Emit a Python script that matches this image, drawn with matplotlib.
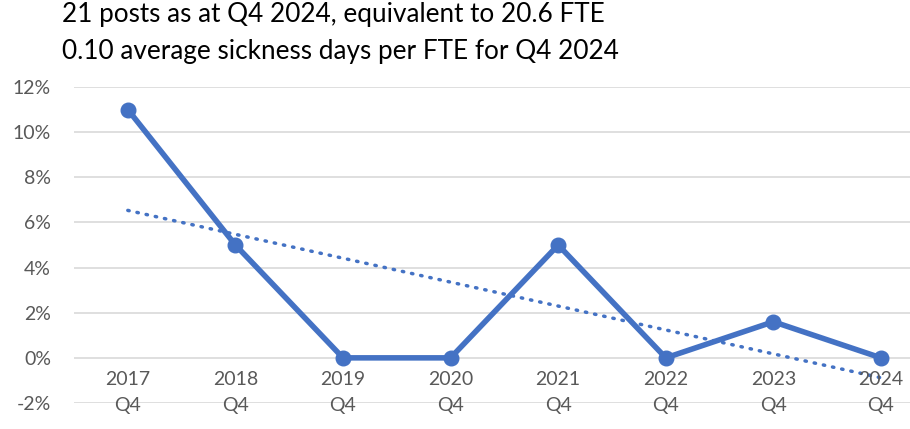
import matplotlib
matplotlib.use("Agg")
import matplotlib.pyplot as plt
import numpy as np

years = ["2017", "2018", "2019", "2020", "2021", "2022", "2023", "2024"]
quarters = ["Q4"] * 8
values = [11.0, 5.0, 0.0, 0.0, 5.0, 0.0, 1.6, 0.0]
yticks = [-2, 0, 2, 4, 6, 8, 10, 12]
title_lines = ["21 posts as at Q4 2024, equivalent to 20.6 FTE",
               "0.10 average sickness days per FTE for Q4 2024"]

plt.rcParams['font.family'] = ['Lato', 'DejaVu Sans']
W, H = 910, 429
fig = plt.figure(figsize=(W / 100, H / 100), dpi=100)
left = 74 / W
bottom = (H - 403) / H
top = (H - 87) / H
ax = fig.add_axes([left, bottom, 1 - left, top - bottom])

x = np.arange(len(values))
color = "#4472C4"
ax.plot(x, values, color=color, lw=4.0, marker='o', ms=10.5, zorder=3,
        solid_joinstyle='round')
coef = np.polyfit(x, values, 1)
ax.plot(x, np.polyval(coef, x), color=color, lw=2.5,
        linestyle=(0, (0.4, 2.3)), dash_capstyle='round', zorder=2)

ax.set_ylim(-2, 12)
spacing = 107.6
ax.set_xlim(-0.5, -0.5 + (W - 74) / spacing)
ax.set_yticks(yticks)
ax.set_yticklabels([f"{v}%" for v in yticks], color="#595959", fontsize=14)
ax.tick_params(axis='y', length=0, pad=16.5)
ax.set_xticks([])
ax.grid(axis='y', color="#D9D9D9", lw=1.2)
ax.set_axisbelow(True)
for s in ax.spines.values():
    s.set_visible(False)

for i, (yr, q) in enumerate(zip(years, quarters)):
    ax.annotate(yr, (i, 0), xytext=(0, -9.5), textcoords='offset points',
                ha='center', va='top', color="#595959", fontsize=14,
                annotation_clip=False)
    ax.annotate(q, (i, 0), xytext=(0, -28), textcoords='offset points',
                ha='center', va='top', color="#595959", fontsize=14,
                annotation_clip=False)

fig.text(62 / W, 1 - 2 / H, title_lines[0], ha='left', va='top', fontsize=18.8, color="#000000")
fig.text(62 / W, 1 - 39 / H, title_lines[1], ha='left', va='top', fontsize=18.8, color="#000000")

fig.savefig("out.png", dpi=100)
